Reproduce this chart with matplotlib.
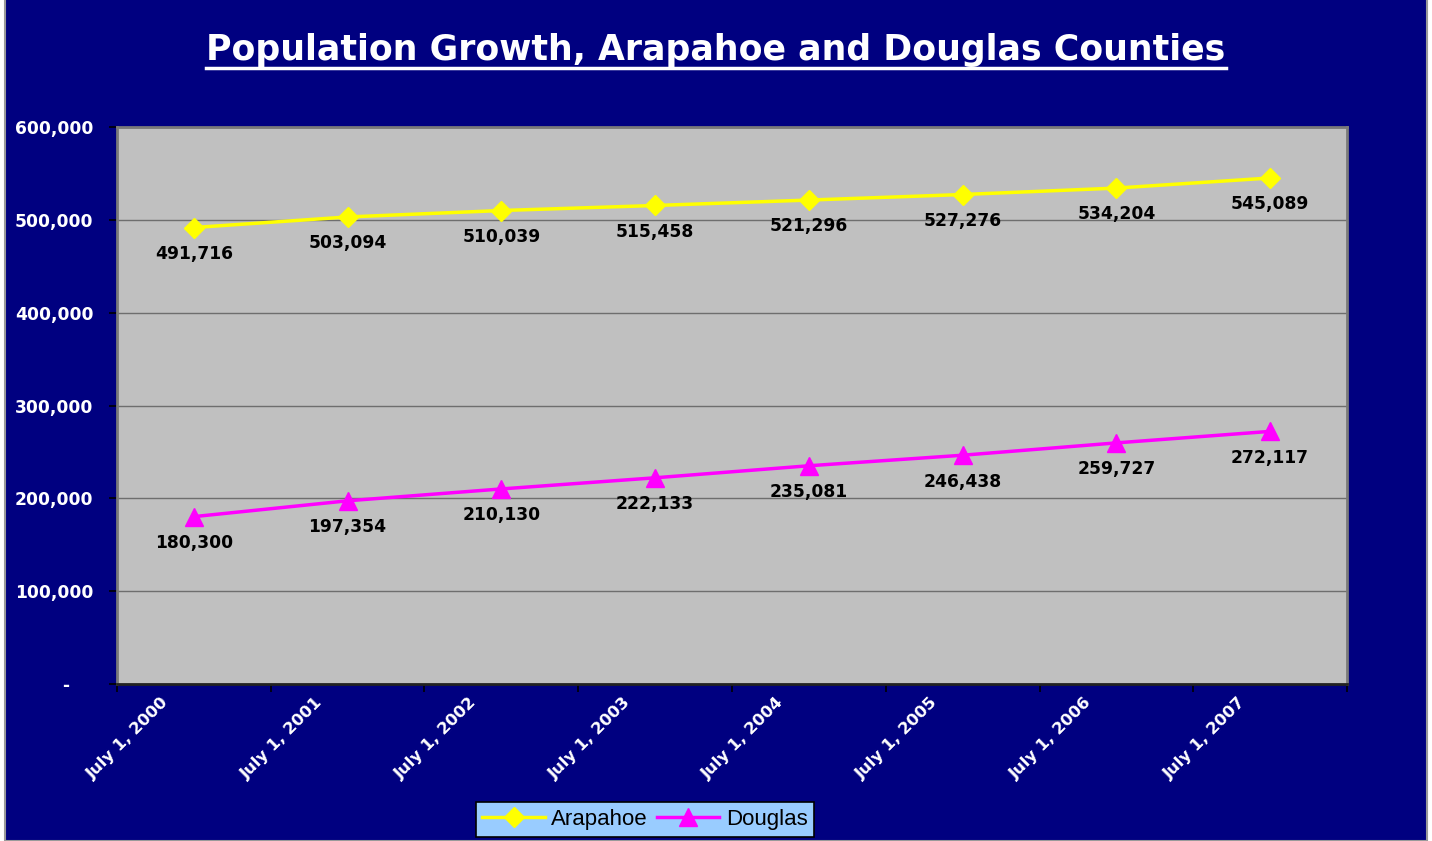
import matplotlib
matplotlib.use("Agg")
import matplotlib.pyplot as plt
from matplotlib.patches import Rectangle
from matplotlib.lines import Line2D
from matplotlib.transforms import ScaledTranslation

years = ["July 1, 2000", "July 1, 2001", "July 1, 2002", "July 1, 2003",
         "July 1, 2004", "July 1, 2005", "July 1, 2006", "July 1, 2007"]
arapahoe = [491716, 503094, 510039, 515458, 521296, 527276, 534204, 545089]
douglas = [180300, 197354, 210130, 222133, 235081, 246438, 259727, 272117]
y_ticks = [0, 100000, 200000, 300000, 400000, 500000, 600000]
y_labels = ["-", "100,000", "200,000", "300,000", "400,000", "500,000", "600,000"]

W, H = 1432, 841
NAVY = "#000080"
WIDE = ["DejaVu Sans"]
plt.rcParams["font.family"] = ["Liberation Sans", "DejaVu Sans"]

fig = plt.figure(figsize=(W / 100, H / 100), dpi=100, facecolor="white")

# navy chart area with thin grey frame
bg = Rectangle((5 / W, 0), 1422 / W, (H - 4) / H + 0.01,
               transform=fig.transFigure, facecolor=NAVY,
               edgecolor="#9a9a9a", linewidth=1.5, zorder=-10)
fig.add_artist(bg)

ax = fig.add_axes([117 / W, (H - 684) / H, 1230 / W, 557 / H])
ax.set_facecolor("#C0C0C0")

x = list(range(len(years)))
ax.plot(x, arapahoe, color="#FFFF00", lw=2.5, marker="D", ms=10,
        mec="#FFFF00", mfc="#FFFF00", zorder=3)
ax.plot(x, douglas, color="#FF00FF", lw=2.5, marker="^", ms=13,
        mec="#FF00FF", mfc="#FF00FF", zorder=3)

for xi, v in zip(x, arapahoe):
    ax.annotate(f"{v:,}", (xi, v), xytext=(0, -19), textcoords="offset points",
                ha="center", va="center", fontsize=12.3, fontweight="bold",
                family=WIDE, color="black")
for xi, v in zip(x, douglas):
    ax.annotate(f"{v:,}", (xi, v), xytext=(0, -19), textcoords="offset points",
                ha="center", va="center", fontsize=12.3, fontweight="bold",
                family=WIDE, color="black")

ax.set_xlim(-0.5, len(years) - 0.5)
ax.set_ylim(0, 600000)

ax.set_yticks(y_ticks)
ax.set_yticklabels(y_labels, fontsize=12.3, fontweight="bold", color="white", family=WIDE)
ax.tick_params(axis="y", direction="out", length=6, width=1.2, color="black", pad=11)
ax.yaxis.grid(True, color="#6e6e6e", lw=1)
ax.set_axisbelow(True)
dash = ax.get_yticklabels()[0]
dash.set_transform(dash.get_transform() + ScaledTranslation(-24 / 100, 0, fig.dpi_scale_trans))

ax.set_xticks(x)
ax.set_xticklabels(years, rotation=45, ha="right", va="top", fontsize=11.8,
                   fontweight="bold", color="white", family=WIDE)
ax.tick_params(axis="x", which="major", length=0, pad=8)
ax.set_xticks([i - 0.5 for i in range(len(years) + 1)], minor=True)
ax.tick_params(axis="x", which="minor", direction="out", length=6, width=1.2, color="black")
for lab in ax.get_xticklabels():
    lab.set_transform(lab.get_transform() + ScaledTranslation(-22 / 100, 0, fig.dpi_scale_trans))

for side in ["top", "right", "left"]:
    ax.spines[side].set_color("#7a7a7a")
    ax.spines[side].set_linewidth(2)
ax.spines["bottom"].set_color("#222222")
ax.spines["bottom"].set_linewidth(2)

# title with underline
title = fig.text(0.5, 1 - 60 / H, "Population Growth, Arapahoe and Douglas Counties",
                 ha="center", va="baseline", fontsize=25, fontweight="bold",
                 color="white", family=WIDE)
fig.canvas.draw()
bb = title.get_window_extent(fig.canvas.get_renderer())
uy = 1 - 67.5 / H
fig.add_artist(Line2D([bb.x0 / W, bb.x1 / W], [uy, uy], transform=fig.transFigure,
                      color="white", lw=2.5))

handles = [Line2D([], [], color="#FFFF00", lw=2.5, marker="D", ms=10, mfc="#FFFF00", mec="#FFFF00"),
           Line2D([], [], color="#FF00FF", lw=2.5, marker="^", ms=13, mfc="#FF00FF", mec="#FF00FF")]
leg = fig.legend(handles, ["Arapahoe", "Douglas"], loc="center",
                 bbox_to_anchor=(645 / W, 1 - 819.5 / H), ncol=2, fontsize=16,
                 frameon=True, fancybox=False, edgecolor="black", facecolor="#99CCFF",
                 framealpha=1, handlelength=2.8, handletextpad=0.3, columnspacing=0.4,
                 borderpad=0.3, borderaxespad=0)
leg.get_frame().set_linewidth(1.2)

fig.savefig("out.png", dpi=100, facecolor="white")
